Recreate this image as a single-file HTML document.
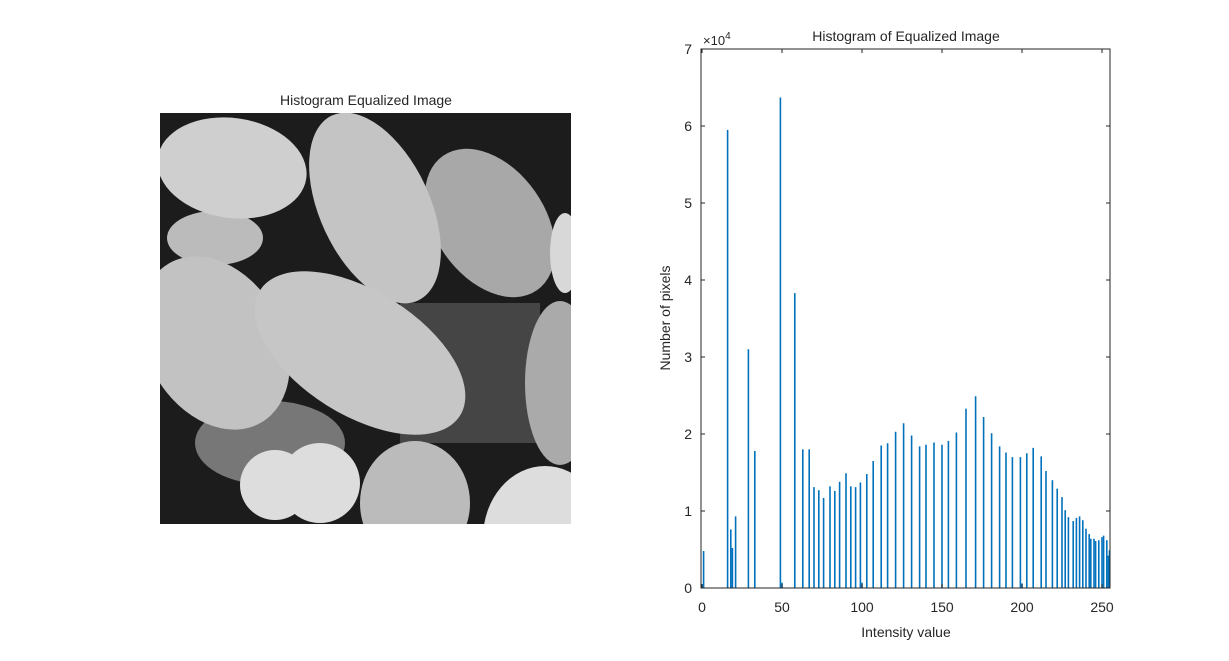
<!DOCTYPE html>
<html><head><meta charset="utf-8"><style>
body{margin:0;background:#fff;width:1229px;height:661px;overflow:hidden;font-family:"Liberation Sans",sans-serif}
svg{position:absolute;left:0;top:0}
text{font-family:"Liberation Sans",sans-serif;fill:#262626}
</style></head><body>
<svg width="1229" height="661">
<text x="366" y="105" font-size="14" text-anchor="middle" fill="#000">Histogram Equalized Image</text>
<g transform="translate(160,113)">
<defs><clipPath id="c"><rect width="411" height="411"/></clipPath></defs>
<g clip-path="url(#c)">
<rect width="411" height="411" fill="#1c1c1c"/>
<rect x="240" y="190" width="140" height="140" fill="#454545"/>
<ellipse cx="110" cy="330" rx="75" ry="42" fill="#777"/>
<ellipse cx="330" cy="110" rx="55" ry="82" transform="rotate(-35 330 110)" fill="#a8a8a8"/>
<ellipse cx="405" cy="140" rx="15" ry="40" fill="#d8d8d8"/>
<ellipse cx="400" cy="270" rx="35" ry="82" fill="#aaa"/>
<ellipse cx="55" cy="125" rx="48" ry="27" fill="#bbb"/>
<ellipse cx="215" cy="95" rx="55" ry="102" transform="rotate(-25 215 95)" fill="#c4c4c4"/>
<ellipse cx="72" cy="55" rx="75" ry="50" transform="rotate(8 72 55)" fill="#cfcfcf"/>
<ellipse cx="55" cy="230" rx="68" ry="92" transform="rotate(-30 55 230)" fill="#c2c2c2"/>
<ellipse cx="200" cy="240" rx="118" ry="62" transform="rotate(32 200 240)" fill="#c6c6c6"/>
<ellipse cx="255" cy="390" rx="55" ry="62" fill="#bbb"/>
<circle cx="115" cy="372" r="35" fill="#ddd"/>
<circle cx="160" cy="370" r="40" fill="#ddd"/>
<ellipse cx="385" cy="425" rx="62" ry="72" fill="#ddd"/>
</g></g>
<text x="906" y="41" font-size="14" text-anchor="middle" fill="#000">Histogram of Equalized Image</text>
<g id="axes"></g>
<rect x="701" y="49" width="409" height="539" fill="none" stroke="#262626" stroke-width="1"/>
<text x="703" y="45" font-size="13">×10<tspan dy="-6" font-size="10">4</tspan></text>
<text transform="translate(670,318) rotate(-90)" font-size="14" text-anchor="middle">Number of pixels</text>
<text x="906" y="637" font-size="14" text-anchor="middle">Intensity value</text>
</svg>
<script>
const intensities=[0,1,16,18,19,21,29,33,49,50,58,63,67,70,73,76,80,83,86,90,93,96,99,100,103,107,112,116,121,126,131,136,140,145,150,154,159,165,171,176,181,186,190,194,199,200,203,207,212,215,219,222,225,227,229,232,234,236,238,240,242,243,245,246,248,250,251,253,254,255];
const counts=[500,4800,59500,7600,5200,9300,31000,17800,63700,700,38300,18000,18000,13100,12700,11700,13200,12600,13800,14900,13200,13100,13700,700,14800,16500,18500,18800,20300,21400,19800,18400,18600,18900,18600,19100,20200,23300,24900,22200,20100,18400,17600,17000,17000,600,17500,18200,17100,15200,14000,12900,11800,10100,9200,8700,9100,9300,8800,7700,7000,6400,6400,6100,6200,6600,6800,6200,4200,4900];
const xTicks=[0,50,100,150,200,250];
const yTicks=[0,1,2,3,4,5,6,7];
const NS='http://www.w3.org/2000/svg';
const X0=702,XS=1.6,Y0=588,Y1=49,YMAX=70000;
const xs=v=>Math.min(X0+v*XS,1109.5);
const ys=v=>Y0-(v/YMAX)*(Y0-Y1);
const g=document.getElementById('axes');
function mk(t,a){const e=document.createElementNS(NS,t);for(const k in a)e.setAttribute(k,a[k]);g.appendChild(e);return e;}
intensities.forEach((v,i)=>{
 const l=mk('line',{x1:xs(v),x2:xs(v),y1:Y0,y2:ys(counts[i]),stroke:'#0072BD','stroke-width':1.6});
 
 
});
xTicks.forEach(t=>{
 const x=xs(t);
 mk('line',{x1:x,x2:x,y1:Y0,y2:Y0-4,stroke:'#262626'});
 mk('line',{x1:x,x2:x,y1:Y1,y2:Y1+4,stroke:'#262626'});
 const tx=mk('text',{x:x,y:612,'font-size':14,'text-anchor':'middle'});
 tx.textContent=t;
 
 
});
yTicks.forEach(t=>{
 const y=ys(t*10000);
 mk('line',{x1:701,x2:705,y1:y,y2:y,stroke:'#262626'});
 mk('line',{x1:1106,x2:1110,y1:y,y2:y,stroke:'#262626'});
 const tx=mk('text',{x:692,y:y+5,'font-size':14,'text-anchor':'end'});
 tx.textContent=t;
 
 
});
</script>
</body></html>
